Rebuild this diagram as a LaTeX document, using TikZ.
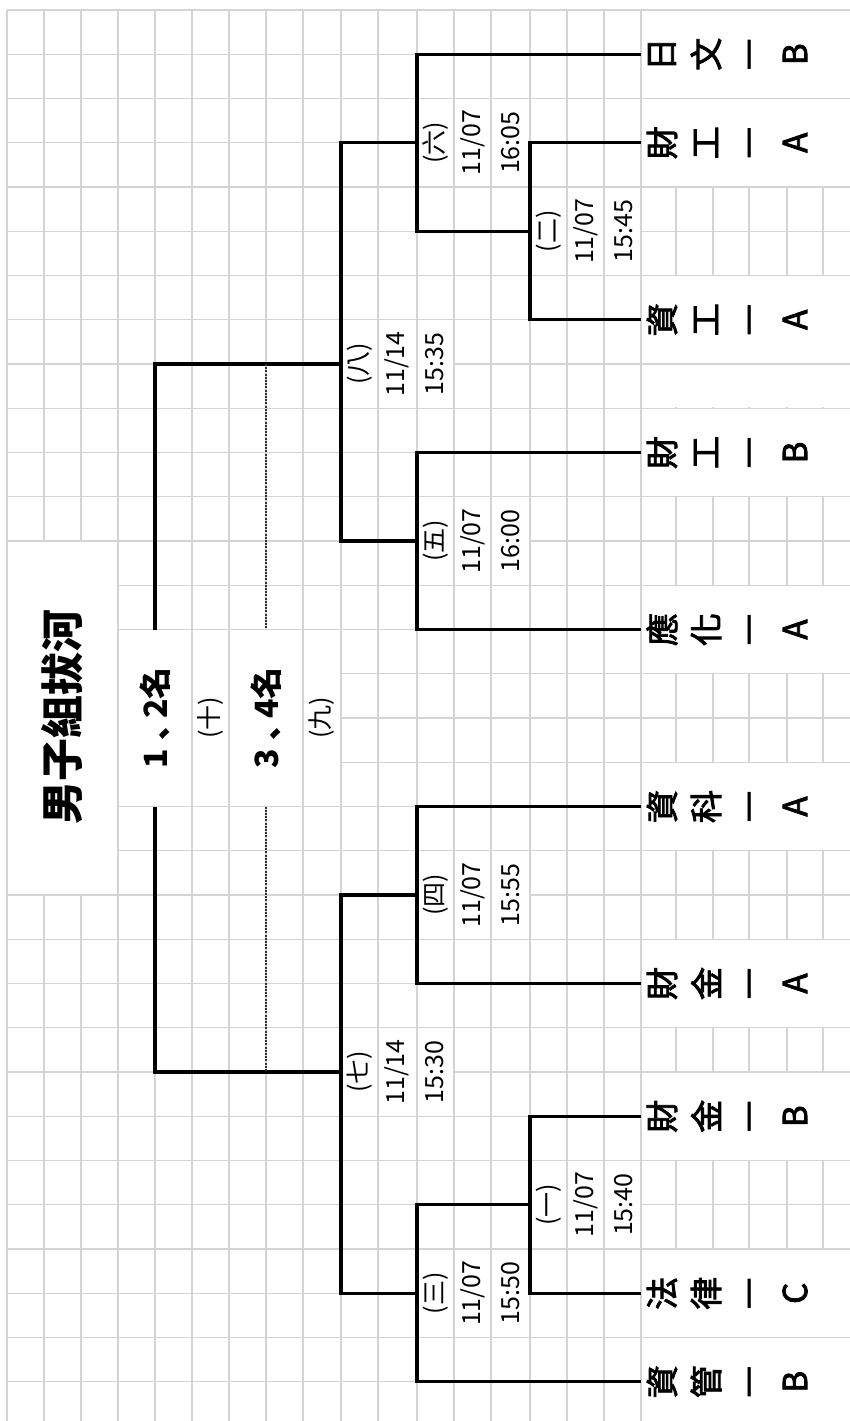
\documentclass[tikz,border=0pt]{standalone}
\usepackage{fontspec}
\usepackage{graphicx}
\setmainfont{Noto Sans CJK TC}
\newfontfamily\teamfont[FakeBold=2.6]{Noto Sans CJK TC}
\newfontfamily\jpfont{Noto Sans CJK JP}
\definecolor{gridgray}{HTML}{D4D4D4}
\newcommand\mergecell[4]{\fill[white] ({#1+0.8},{10+44.25*#2+0.8}) rectangle ({#3-0.8},{10+44.25*#4-0.8});}
\newcommand\longdash{\scalebox{1.18}[1]{－}}
\newcommand\rankcomma{\kern9pt{\jpfont\bfseries 、}\kern-10pt}
\newcommand\teamrow[6]{%
  \node[teamch] (#1-1) at (662,#2) {#3};
  \node[teamch] (#1-2) at (706,#2) {#4};
  \node[teamch, text height=25pt, text depth=0pt] (#1-3) at (749,#2) {#5};
  \node[teamch] (#1-4) at (795,#2) {#6};}
\newcommand\matchlabel[6]{%
  \node[matchlbl] (#1-no) at (#2,#3) {#4};
  \node[matchlbl] (#1-date) at ({#2+37},#3) {#5};
  \node[matchlbl] (#1-time) at ({#2+75},#3) {#6};}
\begin{document}
\begin{tikzpicture}[x=1pt,y=-1pt,
  gridline/.style={draw=gridgray, line width=1.3pt},
  bracket/.style={line width=3.4pt, line join=miter},
  thirdline/.style={line width=1.4pt, dash pattern=on 2pt off 1.2pt, draw=black!80},
  teamch/.style={font=\teamfont\fontsize{33}{40}\selectfont, rotate=90, inner sep=0pt},
  matchlbl/.style={font=\fontsize{25}{28}\selectfont, rotate=90, inner sep=0pt},
  rank/.style={font=\fontsize{32}{36}\selectfont\bfseries, rotate=90, inner sep=0pt},
  titletext/.style={font=\fontsize{43}{48}\selectfont\bfseries, rotate=90, inner sep=0pt}]
\useasboundingbox (0,0) rectangle (850,1421);
\fill[white] (0,0) rectangle (850,1421);
\begin{scope}
\clip (0,0) rectangle (850,1421);
% grid
\foreach \x in {7,44,81,118,155,192,229,266,303,341,378,417,454,491,530,567,604,641,676,713,749,787,823}
  \draw[gridline] (\x,10) -- (\x,1421);
\foreach \j in {0,...,31}{
  \pgfmathsetmacro\yy{10+44.25*\j}
  \draw[gridline] (7,\yy) -- (850,\yy);}
% merged cells
\mergecell{7}{12}{118}{20}
\mergecell{118}{14}{192}{18}
\mergecell{192}{14}{229}{18}
\mergecell{229}{14}{303}{18}
\mergecell{303}{14}{341}{18}
\foreach \a/\b in {0/2,2/4,6/8,8/9,9/11,13/15,17/19,21/23,24/26,28/30,30/32}
  {\mergecell{641}{\a}{852}{\b}}
\foreach \xa/\xb in {417/454,454/491,491/530}{
  \mergecell{\xa}{2}{\xb}{4}
  \mergecell{\xa}{11}{\xb}{13}
  \mergecell{\xa}{19}{\xb}{21}
  \mergecell{\xa}{28}{\xb}{30}}
\foreach \xa/\xb in {530/567,567/604,604/641}{
  \mergecell{\xa}{4}{\xb}{6}
  \mergecell{\xa}{26}{\xb}{28}}
\foreach \xa/\xb in {341/378,378/417,417/454}{
  \mergecell{\xa}{7}{\xb}{9}
  \mergecell{\xa}{23}{\xb}{25}}
\end{scope}
% bracket coordinates
\coordinate (e1) at (641,54.25);
\coordinate (e2) at (641,142.75);
\coordinate (e3) at (641,319.75);
\coordinate (e4) at (641,452.5);
\coordinate (e5) at (641,629.5);
\coordinate (e6) at (641,806.5);
\coordinate (e7) at (641,983.5);
\coordinate (e8) at (641,1116.25);
\coordinate (e9) at (641,1293.25);
\coordinate (e10) at (641,1381.75);
\coordinate (m2) at (530,231.25);
\coordinate (m6) at (417,142.75);
\coordinate (m5) at (417,541);
\coordinate (m8) at (341,364);
\coordinate (m4) at (417,895);
\coordinate (m1) at (530,1204.75);
\coordinate (m3) at (417,1293.25);
\coordinate (m7) at (341,1072);
\coordinate (ftop) at (155,629.5);
\coordinate (fbot) at (155,806.5);
\coordinate (dtop) at (266,629.5);
\coordinate (dbot) at (266,806.5);
% brackets
\draw[bracket] (e2) -| (m2) |- (e3);
\draw[bracket] (e1) -| (m6 |- m2) -- (m2);
\draw[bracket] (e4) -| (m5) |- (e5);
\draw[bracket] (m6) -| (m8) |- (m5);
\draw[bracket] (m8) -| (ftop);
\draw[bracket] (e6) -| (m4) |- (e7);
\draw[bracket] (e8) -| (m1) |- (e9);
\draw[bracket] (e10) -| (m3 |- m1) -- (m1);
\draw[bracket] (m4) -| (m7) |- (m3);
\draw[bracket] (m7) -| (fbot);
\draw[thirdline] (m8 -| dtop) -- (dtop);
\draw[thirdline] (dbot) -- (m7 -| dbot);
% team names
\teamrow{tRB}{54.25}{日}{文}{\longdash}{B}
\teamrow{tCA}{142.75}{財}{工}{\longdash}{A}
\teamrow{tIA}{319.75}{資}{工}{\longdash}{A}
\teamrow{tCB}{452.5}{財}{工}{\longdash}{B}
\teamrow{tYA}{629.5}{應}{化}{\longdash}{A}
\teamrow{tSA}{806.5}{資}{科}{\longdash}{A}
\teamrow{tFA}{983.5}{財}{金}{\longdash}{A}
\teamrow{tFB}{1116.25}{財}{金}{\longdash}{B}
\teamrow{tLC}{1293.25}{法}{律}{\longdash}{C}
\teamrow{tMB}{1381.75}{資}{管}{\longdash}{B}
% match labels
\matchlabel{q2}{548.5}{231.25}{(二)}{11/07}{15:45}
\matchlabel{q6}{435.5}{142.75}{(六)}{11/07}{16:05}
\matchlabel{q8}{359.5}{364}{(八)}{11/14}{15:35}
\matchlabel{q5}{435.5}{541}{(五)}{11/07}{16:00}
\matchlabel{q4}{435.5}{895}{(四)}{11/07}{15:55}
\matchlabel{q7}{359.5}{1072}{(七)}{11/14}{15:30}
\matchlabel{q1}{548.5}{1204.75}{(一)}{11/07}{15:40}
\matchlabel{q3}{435.5}{1293.25}{(三)}{11/07}{15:50}
% final box and title
\node[rank] (r12) at (155,718) {1\rankcomma 2名};
\node[matchlbl] (r12m) at (210.5,718) {(十)};
\node[rank] (r34) at (266,718) {3\rankcomma 4名};
\node[matchlbl] (r34m) at (322,718) {(九)};
\node[titletext] (ttl) at (62,717) {男子組拔河};
\end{tikzpicture}
\end{document}
